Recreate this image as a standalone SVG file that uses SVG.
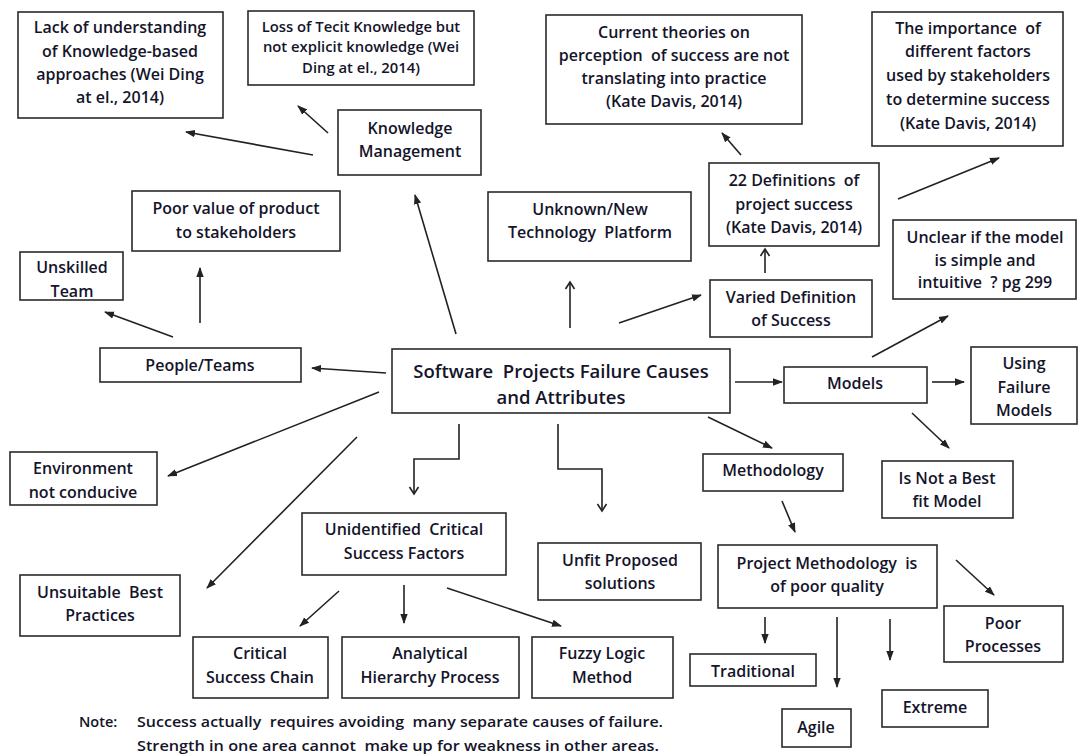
<svg xmlns="http://www.w3.org/2000/svg" width="1079" height="754" viewBox="0 0 1079 754" xml:space="preserve">
<style>
  .box { fill: #ffffff; stroke: #2a2a2a; stroke-width: 1.6; }
  .t { font-family: "Open Sans", "Liberation Sans", sans-serif; font-weight: 600; font-size: 16px; fill: #14142a; text-anchor: middle; white-space: pre; }
  .s { font-size: 14.8px; }
  .big { font-size: 18.5px; }
  .note { font-family: "Open Sans", "Liberation Sans", sans-serif; font-weight: 600; font-size: 14.5px; fill: #14142a; white-space: pre; }
  .c { fill: none; stroke: #222; stroke-width: 1.6; }
  .a { marker-end: url(#ah); }
  .o { marker-end: url(#oh); }
</style>
<defs>
  <marker id="ah" markerUnits="userSpaceOnUse" markerWidth="11" markerHeight="9" refX="9" refY="4.5" orient="auto">
    <path d="M0,0.8 L10,4.5 L0,8.2 z" fill="#222"/>
  </marker>
  <marker id="oh" markerUnits="userSpaceOnUse" markerWidth="12" markerHeight="12" refX="9" refY="6" orient="auto">
    <path d="M2,1.5 L9,6 L2,10.5" fill="none" stroke="#222" stroke-width="1.6"/>
  </marker>
</defs>
<rect width="1079" height="754" fill="#ffffff"/>
<g id="connectors">
  <line class="c a" x1="313" y1="155" x2="186" y2="132"/>
  <line class="c a" x1="328" y1="133" x2="298" y2="106"/>
  <line class="c a" x1="456" y1="334" x2="415" y2="195"/>
  <line class="c a" x1="741" y1="155" x2="722" y2="133"/>
  <line class="c a" x1="898" y1="199" x2="999" y2="158"/>
  <line class="c o" x1="570" y1="328" x2="570" y2="282"/>
  <line class="c a" x1="619" y1="323" x2="701" y2="295"/>
  <line class="c o" x1="765" y1="273" x2="765" y2="249"/>
  <line class="c a" x1="200" y1="323" x2="200" y2="268"/>
  <line class="c a" x1="173" y1="337" x2="105" y2="312"/>
  <line class="c a" x1="386" y1="373" x2="312" y2="368"/>
  <line class="c a" x1="379" y1="392" x2="168" y2="476"/>
  <line class="c a" x1="357" y1="437" x2="207" y2="588"/>
  <polyline class="c o" points="459,424 459,459 414,459 414,494"/>
  <polyline class="c o" points="558,424 558,469 602,469 602,511"/>
  <line class="c a" x1="708" y1="417" x2="772" y2="448"/>
  <line class="c a" x1="735" y1="382" x2="782" y2="382"/>
  <line class="c a" x1="932" y1="382" x2="964" y2="382"/>
  <line class="c a" x1="872" y1="357" x2="948" y2="316"/>
  <line class="c a" x1="912" y1="413" x2="949" y2="448"/>
  <line class="c a" x1="782" y1="501" x2="795" y2="532"/>
  <line class="c a" x1="339" y1="591" x2="300" y2="626"/>
  <line class="c a" x1="404" y1="585" x2="404" y2="623"/>
  <line class="c a" x1="447" y1="588" x2="561" y2="626"/>
  <line class="c a" x1="765" y1="617" x2="765" y2="643"/>
  <line class="c a" x1="837" y1="617" x2="837" y2="687"/>
  <line class="c a" x1="890" y1="619" x2="890" y2="660"/>
  <line class="c a" x1="956" y1="560" x2="994" y2="595"/>
</g>
<g id="n-lack">
  <rect class="box" x="18" y="12" width="205" height="106"/>
  <text class="t" x="120" y="33">Lack of understanding</text>
  <text class="t" x="120" y="57">of Knowledge-based</text>
  <text class="t" x="120" y="80">approaches (Wei Ding</text>
  <text class="t" x="120" y="103">at el., 2014)</text>
</g>
<g id="n-loss">
  <rect class="box" x="248" y="11" width="226" height="74"/>
  <text class="t s" x="361" y="32">Loss of Tecit Knowledge but</text>
  <text class="t s" x="361" y="52">not explicit knowledge (Wei</text>
  <text class="t s" x="361" y="73">Ding at el., 2014)</text>
</g>
<g id="n-km">
  <rect class="box" x="338" y="110" width="143" height="65"/>
  <text class="t" x="410" y="134">Knowledge</text>
  <text class="t" x="410" y="157">Management</text>
</g>
<g id="n-current">
  <rect class="box" x="546" y="15" width="256" height="109"/>
  <text class="t" x="674" y="38">Current theories on</text>
  <text class="t" x="674" y="61">perception  of success are not</text>
  <text class="t" x="674" y="84">translating into practice</text>
  <text class="t" x="674" y="107">(Kate Davis, 2014)</text>
</g>
<g id="n-importance">
  <rect class="box" x="872" y="12" width="191" height="134"/>
  <text class="t" x="968" y="34">The importance  of</text>
  <text class="t" x="968" y="57">different factors</text>
  <text class="t" x="968" y="81">used by stakeholders</text>
  <text class="t" x="968" y="105">to determine success</text>
  <text class="t" x="968" y="129">(Kate Davis, 2014)</text>
</g>
<g id="n-22def">
  <rect class="box" x="709" y="163" width="170" height="83"/>
  <text class="t" x="794" y="186">22 Definitions  of</text>
  <text class="t" x="794" y="210">project success</text>
  <text class="t" x="794" y="233">(Kate Davis, 2014)</text>
</g>
<g id="n-poorvalue">
  <rect class="box" x="132" y="191" width="208" height="60"/>
  <text class="t" x="236" y="214">Poor value of product</text>
  <text class="t" x="236" y="238">to stakeholders</text>
</g>
<g id="n-unknown">
  <rect class="box" x="488" y="192" width="203" height="69"/>
  <text class="t" x="590" y="215">Unknown/New</text>
  <text class="t" x="590" y="238">Technology  Platform</text>
</g>
<g id="n-unclear">
  <rect class="box" x="893" y="220" width="183" height="79"/>
  <text class="t" x="985" y="243">Unclear if the model</text>
  <text class="t" x="985" y="266">is simple and</text>
  <text class="t" x="985" y="288">intuitive  ? pg 299</text>
</g>
<g id="n-unskilled">
  <rect class="box" x="20" y="252" width="103" height="48"/>
  <text class="t" x="72" y="273">Unskilled</text>
  <text class="t" x="72" y="297">Team</text>
</g>
<g id="n-varied">
  <rect class="box" x="710" y="280" width="162" height="57"/>
  <text class="t" x="791" y="303">Varied Definition</text>
  <text class="t" x="791" y="326">of Success</text>
</g>
<g id="n-people">
  <rect class="box" x="100" y="348" width="201" height="34"/>
  <text class="t" x="200" y="371">People/Teams</text>
</g>
<g id="n-center">
  <rect class="box" x="392" y="349" width="338" height="64"/>
  <text class="t big" x="561" y="378">Software  Projects Failure Causes</text>
  <text class="t big" x="561" y="404">and Attributes</text>
</g>
<g id="n-models">
  <rect class="box" x="784" y="367" width="143" height="36"/>
  <text class="t" x="855" y="389">Models</text>
</g>
<g id="n-using">
  <rect class="box" x="971" y="347" width="106" height="77"/>
  <text class="t" x="1024" y="369">Using</text>
  <text class="t" x="1024" y="393">Failure</text>
  <text class="t" x="1024" y="416">Models</text>
</g>
<g id="n-environment">
  <rect class="box" x="10" y="452" width="147" height="53"/>
  <text class="t" x="83" y="474">Environment</text>
  <text class="t" x="83" y="498">not conducive</text>
</g>
<g id="n-methodology">
  <rect class="box" x="703" y="454" width="140" height="37"/>
  <text class="t" x="773" y="476">Methodology</text>
</g>
<g id="n-isnot">
  <rect class="box" x="882" y="461" width="131" height="57"/>
  <text class="t" x="947" y="484">Is Not a Best</text>
  <text class="t" x="947" y="507">fit Model</text>
</g>
<g id="n-ucsf">
  <rect class="box" x="302" y="513" width="204" height="62"/>
  <text class="t" x="404" y="535">Unidentified  Critical</text>
  <text class="t" x="404" y="559">Success Factors</text>
</g>
<g id="n-unfit">
  <rect class="box" x="538" y="543" width="163" height="57"/>
  <text class="t" x="620" y="566">Unfit Proposed</text>
  <text class="t" x="620" y="589">solutions</text>
</g>
<g id="n-pm">
  <rect class="box" x="718" y="545" width="219" height="63"/>
  <text class="t" x="827" y="569">Project Methodology  is</text>
  <text class="t" x="827" y="592">of poor quality</text>
</g>
<g id="n-unsuitable">
  <rect class="box" x="20" y="575" width="160" height="61"/>
  <text class="t" x="100" y="598">Unsuitable  Best</text>
  <text class="t" x="100" y="621">Practices</text>
</g>
<g id="n-poorproc">
  <rect class="box" x="944" y="606" width="119" height="56"/>
  <text class="t" x="1003" y="629">Poor</text>
  <text class="t" x="1003" y="652">Processes</text>
</g>
<g id="n-csc">
  <rect class="box" x="193" y="637" width="135" height="61"/>
  <text class="t" x="260" y="659">Critical</text>
  <text class="t" x="260" y="683">Success Chain</text>
</g>
<g id="n-ahp">
  <rect class="box" x="342" y="637" width="177" height="61"/>
  <text class="t" x="430" y="659">Analytical</text>
  <text class="t" x="430" y="683">Hierarchy Process</text>
</g>
<g id="n-fuzzy">
  <rect class="box" x="532" y="637" width="141" height="61"/>
  <text class="t" x="602" y="659">Fuzzy Logic</text>
  <text class="t" x="602" y="683">Method</text>
</g>
<g id="n-traditional">
  <rect class="box" x="690" y="654" width="126" height="32"/>
  <text class="t" x="753" y="677">Traditional</text>
</g>
<g id="n-extreme">
  <rect class="box" x="882" y="690" width="106" height="37"/>
  <text class="t" x="935" y="713">Extreme</text>
</g>
<g id="n-agile">
  <rect class="box" x="782" y="709" width="69" height="38"/>
  <text class="t" x="816" y="733">Agile</text>
</g>
<g id="note">
  <text class="note" x="79" y="727">Note:</text>
  <text class="note" x="137" y="727" textLength="526" lengthAdjust="spacingAndGlyphs">Success actually  requires avoiding  many separate causes of failure.</text>
  <text class="note" x="137" y="751" textLength="522" lengthAdjust="spacingAndGlyphs">Strength in one area cannot  make up for weakness in other areas.</text>
</g>
</svg>
